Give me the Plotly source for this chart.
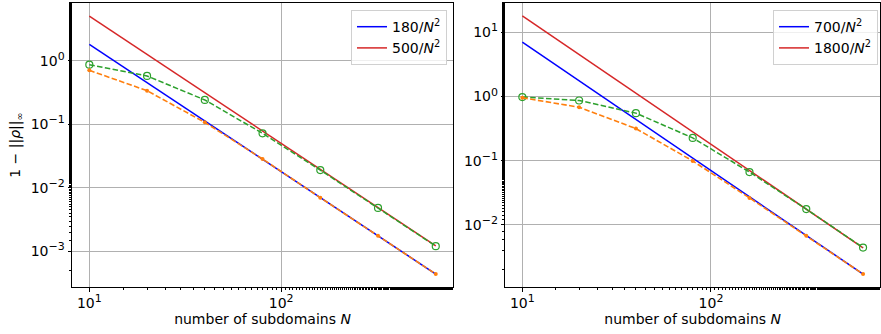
import numpy as np
import plotly.graph_objects as go

N = [10, 20, 40, 80, 160, 320, 640]

# left panel
left_green = [0.865, 0.575, 0.241, 0.072, 0.0190, 0.00483, 0.00121]
left_orange = [0.705, 0.337, 0.107, 0.0284, 0.0070, 0.00176, 0.00044]
left_c_blue = 180
left_c_red = 500

# right panel
right_green = [0.98, 0.866, 0.55, 0.226, 0.0665, 0.0176, 0.00442]
right_orange = [0.955, 0.68, 0.316, 0.099, 0.0263, 0.00676, 0.00171]
right_c_blue = 700
right_c_red = 1800

BLUE = "#0000ff"
RED = "#d62728"
GREEN = "#2ca02c"
ORANGE = "#ff7f0e"
DASH = "5.5px,2.4px"
FONT = "DejaVu Sans"

def sup(e):
    return f"10<sup><span style='font-size:11px'>{e}</span></sup>"

fig = go.Figure()

def add_panel(xa, ya, cb, cr, green, orange, legend):
    Narr = np.array(N, dtype=float)
    fig.add_trace(go.Scatter(x=N, y=cb / Narr**2, mode="lines",
                             line=dict(color=BLUE, width=1.5),
                             name=f"{cb}/<i>N</i><sup>2</sup>",
                             xaxis=xa, yaxis=ya, legend=legend))
    fig.add_trace(go.Scatter(x=N, y=cr / Narr**2, mode="lines",
                             line=dict(color=RED, width=1.5),
                             name=f"{cr}/<i>N</i><sup>2</sup>",
                             xaxis=xa, yaxis=ya, legend=legend))
    fig.add_trace(go.Scatter(x=N, y=green, mode="lines+markers",
                             line=dict(color=GREEN, width=1.5, dash=DASH),
                             marker=dict(symbol="circle-open", size=7, color=GREEN,
                                         line=dict(width=1.2, color=GREEN)),
                             showlegend=False, xaxis=xa, yaxis=ya))
    fig.add_trace(go.Scatter(x=N, y=orange, mode="lines+markers",
                             line=dict(color=ORANGE, width=1.6, dash=DASH),
                             marker=dict(symbol="circle", size=4, color=ORANGE),
                             showlegend=False, xaxis=xa, yaxis=ya))

add_panel("x", "y", left_c_blue, left_c_red, left_green, left_orange, "legend")
add_panel("x2", "y2", right_c_blue, right_c_red, right_green, right_orange, "legend2")

x_tickvals = [10, 100]
x_ticktext = [sup("1"), sup("2")]
yl_tickvals = [1e-3, 1e-2, 1e-1, 1]
yl_ticktext = [sup("−3"), sup("−2"), sup("−1"), sup("0")]
yr_tickvals = [1e-2, 1e-1, 1, 10]
yr_ticktext = [sup("−2"), sup("−1"), sup("0"), sup("1")]

common = dict(type="log", showline=True, linecolor="black", linewidth=1, mirror=True,
              ticks="outside", ticklen=3.5, tickcolor="black", showgrid=True,
              gridcolor="#b0b0b0", gridwidth=0.8, zeroline=False,
              tickfont=dict(family=FONT, size=14, color="black"),
              minor=dict(ticks="outside", ticklen=2, tickcolor="black", showgrid=False))

xl = (453 - 72) / 808
xr0 = (505.3 - 72) / 808

fig.update_layout(
    width=881, height=334,
    margin=dict(l=72, r=1, t=3, b=47),
    plot_bgcolor="white", paper_bgcolor="white",
    font=dict(family=FONT, size=14, color="black"),
    xaxis=dict(common, domain=[0, xl], range=[0.9097, 2.896],
               tickvals=x_tickvals, ticktext=x_ticktext,
               title=dict(text="number of subdomains <i>N</i>", standoff=2,
                          font=dict(family=FONT, size=14))),
    yaxis=dict(common, domain=[0, 1], range=[-3.56, 0.907],
               tickvals=yl_tickvals, ticktext=yl_ticktext,
               title=dict(text="1 − ||<i>ρ</i>||<sub>∞</sub>", standoff=6,
                          font=dict(family=FONT, size=14))),
    xaxis2=dict(common, domain=[xr0, 1], range=[0.9097, 2.896], anchor="y2",
                tickvals=x_tickvals, ticktext=x_ticktext,
                title=dict(text="number of subdomains <i>N</i>", standoff=2,
                           font=dict(family=FONT, size=14))),
    yaxis2=dict(common, domain=[0, 1], range=[-2.968, 1.456], anchor="x2",
                tickvals=yr_tickvals, ticktext=yr_ticktext),
    legend=dict(x=(447 - 72) / 808, y=0.975, xanchor="right", yanchor="top",
                bgcolor="rgba(255,255,255,0.8)", bordercolor="#d0d0d0", borderwidth=1,
                font=dict(family=FONT, size=14)),
    legend2=dict(x=(878 - 72) / 808, y=0.975, xanchor="right", yanchor="top",
                 bgcolor="rgba(255,255,255,0.8)", bordercolor="#d0d0d0", borderwidth=1,
                 font=dict(family=FONT, size=14)),
)

fig.write_html("out.html")
